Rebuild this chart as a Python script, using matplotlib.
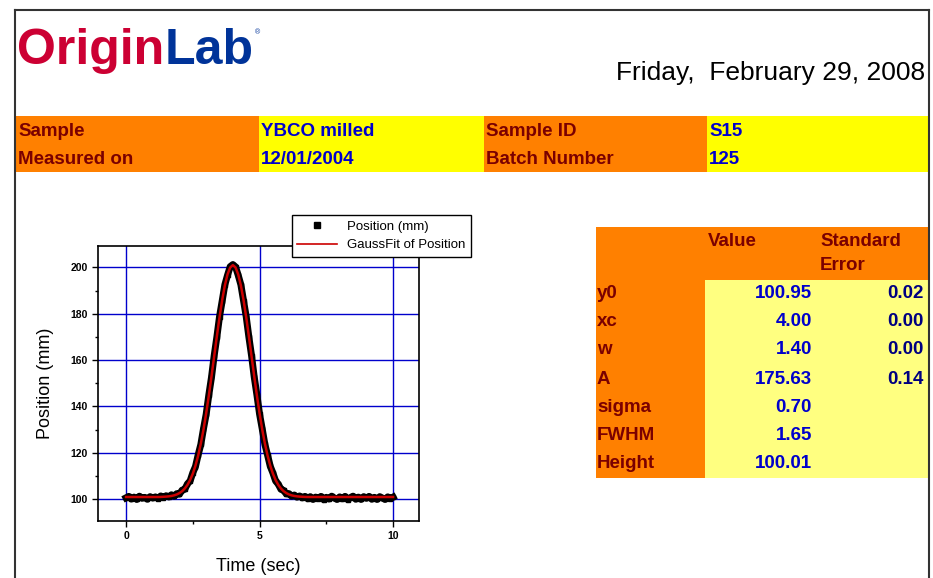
import numpy as np
import matplotlib
matplotlib.use("Agg")
import matplotlib.pyplot as plt
from matplotlib.patches import Rectangle
from matplotlib.lines import Line2D

W, H = 933, 578

# ---------------- data ----------------
time_sec = np.linspace(0, 10, 101)
fit_position = [
    100.95, 100.95, 100.95, 100.95, 100.95, 100.95, 100.95, 100.95, 100.95, 100.95,
    100.95, 100.95, 100.96, 100.98, 101.05, 101.12, 101.23, 101.40, 101.67, 102.06,
    102.64, 103.46, 104.62, 106.19, 108.29, 111.02, 114.48, 118.78, 123.96, 130.04,
    136.99, 144.71, 152.99, 161.60, 170.21, 178.43, 185.88, 192.18, 196.95, 199.94,
    200.95,
    199.94, 196.95, 192.18, 185.88, 178.43, 170.21, 161.60, 152.99, 144.71, 136.99,
    130.04, 123.96, 118.78, 114.48, 111.02, 108.29, 106.19, 104.62, 103.46, 102.64,
    102.06, 101.67, 101.40, 101.23, 101.12, 101.05, 100.98, 100.96, 100.95, 100.95,
    100.95, 100.95, 100.95, 100.95, 100.95, 100.95, 100.95, 100.95, 100.95, 100.95,
    100.95, 100.95, 100.95, 100.95, 100.95, 100.95, 100.95, 100.95, 100.95, 100.95,
    100.95, 100.95, 100.95, 100.95, 100.95, 100.95, 100.95, 100.95, 100.95, 100.95,
]
data_position = [
    100.6, 101.2, 100.1, 100.9, 99.9, 101.3, 100.4, 100.8, 100.0, 101.1,
    100.5, 101.0, 100.3, 101.4, 100.7, 101.5, 101.0, 101.9, 101.3, 102.4,
    102.2, 103.9, 104.3, 106.6, 107.9, 111.4, 114.1, 119.1, 123.6, 130.4,
    136.6, 145.0, 152.6, 161.9, 169.9, 178.7, 185.5, 192.5, 196.6, 200.3,
    201.2,
    200.2, 196.6, 192.5, 185.6, 178.7, 169.9, 161.9, 152.7, 145.0, 136.7,
    130.3, 123.6, 119.0, 114.2, 111.3, 107.9, 106.5, 104.3, 103.8, 102.3,
    102.4, 101.3, 101.8, 100.9, 101.4, 100.6, 101.2, 100.2, 101.1, 99.9,
    100.9, 100.3, 101.2, 99.8, 100.8, 100.1, 101.3, 100.5, 99.9, 101.0,
    100.2, 101.2, 99.8, 100.7, 101.3, 100.0, 100.9, 99.9, 101.1, 100.4,
    101.2, 100.0, 100.8, 99.9, 101.1, 100.5, 99.9, 101.0, 100.3, 100.9,
]
x_ticks = [0, 5, 10]
y_ticks = [100, 120, 140, 160, 180, 200]

header_rows = [("Sample", "YBCO milled", "Sample ID", "S15"),
               ("Measured on", "12/01/2004", "Batch Number", "125")]
param_names = ["y0", "xc", "w", "A", "sigma", "FWHM", "Height"]
param_values = ["100.95", "4.00", "1.40", "175.63", "0.70", "1.65", "100.01"]
param_errors = ["0.02", "0.00", "0.00", "0.14", "", "", ""]
date_text = "Friday,  February 29, 2008"

# ---------------- helpers ----------------
def fx(px):
    return px / W

def fy(py):
    return 1 - py / H

ORANGE = "#ff8000"
YELLOW = "#ffff00"
LYELLOW = "#ffff80"
DRED = "#7a0000"
BLUE = "#0000cc"
NAVY = "#000080"
FONT = "Liberation Sans"
TFS = 13.5

fig = plt.figure(figsize=(W / 100, H / 100), dpi=100)
fig.patch.set_facecolor("white")

def rect(x0, y0, x1, y1, color, **kw):
    fig.add_artist(Rectangle((fx(x0), fy(y1)), fx(x1) - fx(x0), fy(y0) - fy(y1),
                             transform=fig.transFigure, facecolor=color,
                             edgecolor="none", **kw))

# page frame
fig.add_artist(Line2D([fx(15), fx(15)], [fy(10), 0], transform=fig.transFigure, color="#333333", lw=1.5))
fig.add_artist(Line2D([fx(929), fx(929)], [fy(10), 0], transform=fig.transFigure, color="#333333", lw=1.5))
fig.add_artist(Line2D([fx(15), fx(929)], [fy(10), fy(10)], transform=fig.transFigure, color="#333333", lw=1.5))

# logo
t1 = fig.text(fx(17), fy(64), "Origin", color="#cc0033", fontsize=36, fontweight="bold",
              family=FONT, va="baseline", ha="left")
fig.canvas.draw()
bb = t1.get_window_extent()
t2 = fig.text(bb.x1 / W, fy(64), "Lab", color="#003399", fontsize=36, fontweight="bold",
              family=FONT, va="baseline", ha="left")
fig.canvas.draw()
bb2 = t2.get_window_extent()
fig.text(bb2.x1 / W + 0.002, fy(33), "®", color="#003399", fontsize=5, family=FONT, va="center")

# date
fig.text(fx(925), fy(80), date_text, fontsize=19, family=FONT, ha="right", va="baseline", color="black")

# header band
cols_x = [(16, 259), (259, 484), (484, 707), (707, 929)]
band_colors = [ORANGE, YELLOW, ORANGE, YELLOW]
for (x0, x1), c in zip(cols_x, band_colors):
    rect(x0, 116, x1, 172, c)
row_y = [131, 159]
for r, row in enumerate(header_rows):
    for c, txt in enumerate(row):
        fig.text(fx(cols_x[c][0] + 2), fy(row_y[r]), txt, fontsize=TFS, fontweight="bold",
                 family=FONT, va="center", ha="left", color=DRED if c % 2 == 0 else BLUE)

# stats table
rect(596, 227, 929, 478, ORANGE)
rect(705, 280, 929, 478, LYELLOW)
fig.text(fx(708), fy(241), "Value", fontsize=TFS, fontweight="bold", family=FONT,
         va="center", ha="left", color=DRED)
fig.text(fx(820), fy(241), "Standard", fontsize=TFS, fontweight="bold", family=FONT,
         va="center", ha="left", color=DRED)
fig.text(fx(820), fy(265), "Error", fontsize=TFS, fontweight="bold", family=FONT,
         va="center", ha="left", color=DRED)
stat_y = [294, 322, 350, 379, 407, 435, 464]
for i, name in enumerate(param_names):
    fig.text(fx(597), fy(stat_y[i]), name, fontsize=TFS, fontweight="bold", family=FONT,
             va="center", ha="left", color=DRED)
    fig.text(fx(812), fy(stat_y[i]), param_values[i], fontsize=TFS, fontweight="bold",
             family=FONT, va="center", ha="right", color=BLUE)
    if param_errors[i]:
        fig.text(fx(924), fy(stat_y[i]), param_errors[i], fontsize=TFS, fontweight="bold",
                 family=FONT, va="center", ha="right", color=NAVY)

# ---------------- plot ----------------
ax = fig.add_axes([fx(98), fy(521), fx(419) - fx(98), fy(246) - fy(521)])
ax.set_xlim(-1.05, 10.97)
ax.set_ylim(90.6, 209.2)
ax.set_xticks(x_ticks)
ax.set_yticks(y_ticks)
ax.set_xticks([2.5, 7.5], minor=True)
ax.set_yticks([110, 130, 150, 170, 190], minor=True)
ax.grid(True, which="major", color="#0000cc", lw=1.0)
ax.set_axisbelow(True)
ax.tick_params(which="both", direction="out", length=4, width=1, labelsize=7.5,
               top=False, right=False)
ax.tick_params(which="minor", length=2.5)
for lab in ax.get_xticklabels() + ax.get_yticklabels():
    lab.set_fontweight("bold")
    lab.set_family(FONT)
for s in ax.spines.values():
    s.set_linewidth(1.2)
    s.set_color("black")

ax.plot(time_sec, data_position, color="black", lw=5, marker="s", ms=3.5,
        solid_joinstyle="round", zorder=3)
ax.plot(time_sec, fit_position, color="#cc0000", lw=1.8, zorder=4)

ax.set_xlabel("Time (sec)", fontsize=13, family=FONT, labelpad=12)
ax.set_ylabel("Position (mm)", fontsize=13, family=FONT, labelpad=12)

handles = [Line2D([], [], color="black", marker="s", ms=4, ls="none"),
           Line2D([], [], color="#cc0000", lw=1.2)]
leg = ax.legend(handles, ["Position (mm)", "GaussFit of Position"],
                loc="upper left", bbox_to_anchor=(fx(292), fy(215)),
                bbox_transform=fig.transFigure, fancybox=False, framealpha=1,
                edgecolor="black", prop={"family": FONT, "size": 9.5},
                handlelength=3.0, borderpad=0.4, labelspacing=0.5,
                borderaxespad=0)
leg.get_frame().set_linewidth(1.0)
leg.set_zorder(10)

fig.savefig("out.png", dpi=100)
